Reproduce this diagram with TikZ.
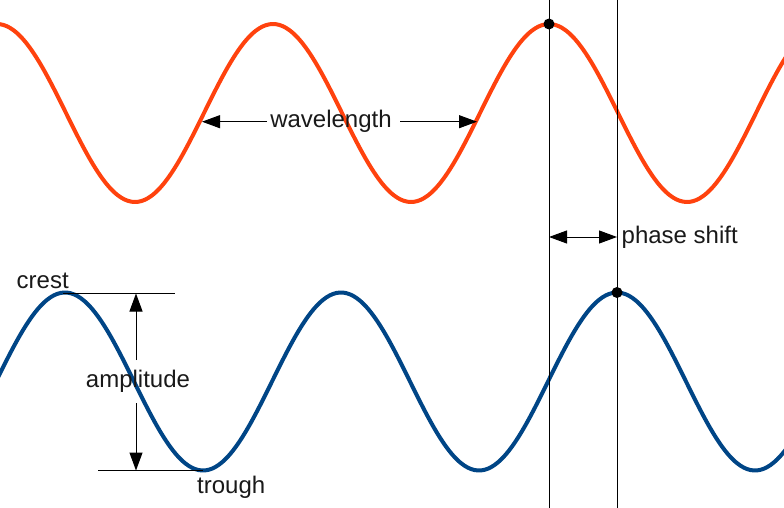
\documentclass[tikz,border=0pt]{standalone}
\usepackage{fontspec}
\setmainfont{Liberation Sans}
\usetikzlibrary{arrows.meta}
\definecolor{waveorange}{HTML}{FF420E}
\definecolor{waveblue}{HTML}{004586}
\begin{document}
\begin{tikzpicture}[x=1pt,y=-1pt,
  wave/.style={line width=4pt},
  thin/.style={line width=1pt,black},
  arr/.style={thin,-{Triangle[length=18pt,width=13pt]}},
  darr/.style={thin,{Triangle[length=18pt,width=13pt]}-{Triangle[length=18pt,width=13pt]}},
  lbl/.style={inner sep=0pt,font=\fontsize{24}{28}\selectfont,text=black!90},
  dot/.style={circle,fill=black,inner sep=0pt,minimum size=11pt}]
\useasboundingbox (0,0) rectangle (784,508);
\begin{scope}
\clip (0,0) rectangle (784,508);
\draw[wave,waveorange] plot[domain=-10:794,samples=240,smooth] (\x,{113-89*cos(1.304348*(\x+3))});
\draw[wave,waveblue] plot[domain=-10:794,samples=240,smooth] (\x,{381.5-89*cos(1.304348*(\x-617))});
\end{scope}
% vertical reference lines
\coordinate (v1t) at (549,0);
\coordinate (v1b) at (549,508);
\coordinate (v2t) at (617,0);
\coordinate (v2b) at (617,508);
\draw[thin] (v1t) -- (v1b);
\draw[thin] (v2t) -- (v2b);
% dots
\node[dot] (ocrest) at (549,24) {};
\node[dot] (bcrest) at (617,292.5) {};
% amplitude guides
\coordinate (ct1) at (63,293.5);
\coordinate (ct2) at (175,293.5);
\coordinate (tr1) at (98,470.5);
\coordinate (tr2) at (203,470.5);
\draw[thin] (ct1) -- (ct2);
\draw[thin] (tr1) -- (tr2);
\coordinate (atop) at (136,293.5);
\coordinate (abot) at (136,470.5);
\coordinate (aup) at (136,360);
\coordinate (adn) at (136,403);
\draw[arr] (aup) -- (atop);
\draw[arr] (adn) -- (abot);
% wavelength
\coordinate (wl0) at (267,121.7);
\coordinate (wl1) at (202,121.7);
\coordinate (wr0) at (400,121.7);
\coordinate (wr1) at (477,121.7);
\draw[arr] (wl0) -- (wl1);
\draw[arr] (wr0) -- (wr1);
% phase shift
\coordinate (p1) at (549,237);
\coordinate (p2) at (617,237);
\draw[darr] (p1) -- (p2);
% labels
\node[lbl,anchor=base] (wavelength) at (331,128) {wavelength};
\node[lbl,anchor=base] (amplitude) at (138,387) {amplitude};
\node[lbl,anchor=base west] (phase) at (621.5,243) {phase shift};
\node[lbl,anchor=base west] (crest) at (16.5,288) {crest};
\node[lbl,anchor=base west] (trough) at (197,493) {trough};
\end{tikzpicture}
\end{document}
